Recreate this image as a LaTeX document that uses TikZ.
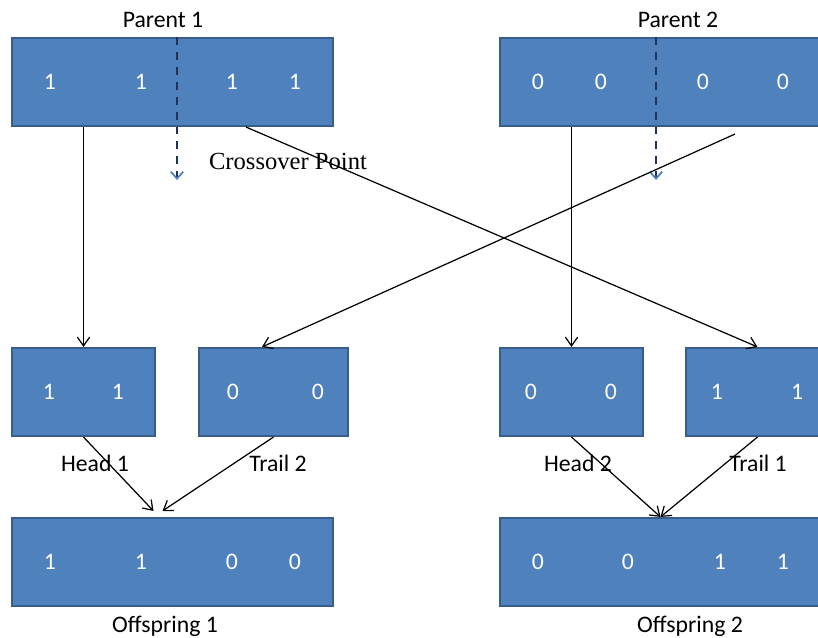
\documentclass[tikz,border=0pt]{standalone}
\usepackage{fontspec}
\setmainfont{Carlito}
\newfontfamily\timesfont{Liberation Serif}
\usetikzlibrary{calc,arrows.meta}
\definecolor{genefill}{RGB}{79,129,189}
\definecolor{geneline}{RGB}{56,93,138}
\definecolor{cutline}{RGB}{31,50,90}
\tikzset{
  gene/.style={draw=geneline, fill=genefill, line width=1.2pt, minimum height=1.76cm, inner sep=0pt},
  bit/.style={text=white, font=\fontsize{13.5}{16}\selectfont},
  tag/.style={font=\fontsize{13.5}{16}\selectfont},
  link/.style={line width=0.7pt, -{Straight Barb[length=5pt,width=7pt]}},
  cut/.style={cutline, line width=1pt, dash pattern=on 4.5pt off 4pt, -{Straight Barb[length=4pt,width=7pt,color=genefill]}}
}
\begin{document}
\begin{tikzpicture}[x=0.02cm, y=-0.02cm]
		%%%%% START %%%%%
		\useasboundingbox (0, 0) rectangle (818, 638);
		
		% parents
		\node[gene, minimum width=6.42cm] (p1) at (172.5, 82) {};
		\node[gene, minimum width=6.42cm] (p2) at (660.5, 82) {};
		\node[tag] (p1lab) at (163, 20) {Parent 1};
		\node[tag] (p2lab) at (678, 20) {Parent 2};
		\node[bit] (p1a) at (50, 82) {1};
		\node[bit] (p1b) at (141, 82) {1};
		\node[bit] (p1c) at (232, 82) {1};
		\node[bit] (p1d) at (295, 82) {1};
		\node[bit] (p2a) at (538, 82) {0};
		\node[bit] (p2b) at (601, 82) {0};
		\node[bit] (p2c) at (703, 82) {0};
		\node[bit] (p2d) at (783, 82) {0};
		
		% heads and trails
		\node[gene, minimum width=2.86cm] (h1) at (83.5, 392) {};
		\node[gene, minimum width=2.98cm] (t2) at (273.5, 392) {};
		\node[gene, minimum width=2.86cm] (h2) at (571.5, 392) {};
		\node[gene, minimum width=2.86cm] (t1) at (757.5, 392) {};
		\node[bit] (h1a) at (49, 392) {1};
		\node[bit] (h1b) at (118, 392) {1};
		\node[bit] (t2a) at (233, 392) {0};
		\node[bit] (t2b) at (318, 392) {0};
		\node[bit] (h2a) at (531, 392) {0};
		\node[bit] (h2b) at (611, 392) {0};
		\node[bit] (t1a) at (717, 392) {1};
		\node[bit] (t1b) at (797, 392) {1};
		\node[tag] (h1lab) at (95, 463) {Head 1};
		\node[tag] (t2lab) at (278, 463) {Trail 2};
		\node[tag] (h2lab) at (578, 463) {Head 2};
		\node[tag] (t1lab) at (758, 463) {Trail 1};
		
		% offspring
		\node[gene, minimum width=6.42cm] (o1) at (172.5, 562) {};
		\node[gene, minimum width=6.42cm] (o2) at (660.5, 562) {};
		\node[bit] (o1a) at (50, 562) {1};
		\node[bit] (o1b) at (141, 562) {1};
		\node[bit] (o1c) at (232, 562) {0};
		\node[bit] (o1d) at (295, 562) {0};
		\node[bit] (o2a) at (538, 562) {0};
		\node[bit] (o2b) at (628, 562) {0};
		\node[bit] (o2c) at (720, 562) {1};
		\node[bit] (o2d) at (783, 562) {1};
		\node[tag] (o1lab) at (165, 626) {Offspring 1};
		\node[tag] (o2lab) at (690, 626) {Offspring 2};
		
		% crossover points
		\draw[cut] ($(p1.north)+(4.5, 0)$) -- ($(p1.south)+(4.5, 53)$);
		\draw[cut] ($(p2.north)+(-4.5, 0)$) -- ($(p2.south)+(-4.5, 53)$);
		\node[font=\timesfont\fontsize{14}{16}\selectfont] (xlab) at (288, 161) {Crossover Point};
		
		% splitting
		\draw[link] (h1.north |- p1.south) -- (h1.north);
		\draw[link] ($(p1.south)+(73.5, 0)$) -- (t1.north);
		\draw[link] (h2.north |- p2.south) -- (h2.north);
		\draw[link] ($(p2.south)+(74.5, 7)$) -- ($(t2.north)+(-11.5, 0)$);
		
		% joining
		\draw[link] (h1.south) -- ($(o1.north)+(-19, -6)$);
		\draw[link] (t2.south) -- ($(o1.north)+(-10, -6)$);
		\draw[link] (h2.south) -- (o2.north);
		\draw[link] (t1.south) -- (o2.north);
		%%%%% END %%%%%
\end{tikzpicture}
\end{document}
